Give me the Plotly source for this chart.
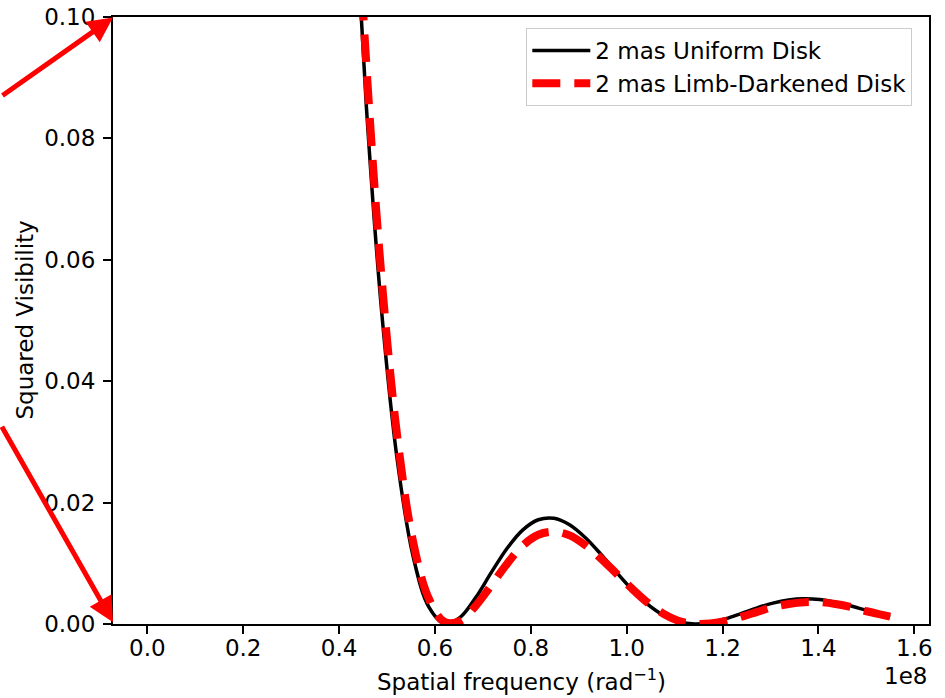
import plotly.graph_objects as go

# Spatial frequency in units of 1e8 rad^-1
freq = [0.3589, 0.3915, 0.4241, 0.4567, 0.4893, 0.5220, 0.5546, 0.5872, 0.6198, 0.6525,
        0.6851, 0.7177, 0.7503, 0.7829, 0.8156, 0.8482, 0.8808, 0.9134, 0.9461, 0.9787,
        1.0113, 1.0439, 1.0766, 1.1092, 1.1418, 1.1744, 1.2070, 1.2397, 1.2723, 1.3049,
        1.3375, 1.3702, 1.4028, 1.4354, 1.4680, 1.5007, 1.5333, 1.5496]

v2_uniform = [0.2555, 0.1879, 0.1312, 0.0856, 0.0511, 0.02667, 0.01111, 0.002815, 0.0000454, 0.001089,
              0.004356, 0.008497, 0.012447, 0.015469, 0.017171, 0.017424, 0.016356, 0.014255, 0.011501, 0.008507,
              0.005645, 0.003221, 0.001435, 0.000368, 0.0000018, 0.0002275, 0.000877, 0.001755, 0.002667, 0.00344,
              0.00396, 0.004157, 0.004025, 0.003603, 0.002971, 0.002234, 0.001493, 0.001153]

v2_limb = [0.270, 0.200, 0.140, 0.0925, 0.0565, 0.0305, 0.0135, 0.0042, 0.00035, 0.0005,
           0.0030, 0.0064, 0.0099, 0.0129, 0.0147, 0.0152, 0.0146, 0.0130, 0.0108, 0.0083,
           0.0058, 0.0035, 0.0017, 0.0005, 0.00005, 0.0001, 0.0005, 0.0012, 0.0020, 0.0028,
           0.0033, 0.0036, 0.0036, 0.0033, 0.0028, 0.0021, 0.0015, 0.0012]

x_ticks = [0.0, 0.2, 0.4, 0.6, 0.8, 1.0, 1.2, 1.4, 1.6]
y_ticks = [0.00, 0.02, 0.04, 0.06, 0.08, 0.10]

FONT = "DejaVu Sans"
FS = 23

fig = go.Figure()
fig.add_trace(go.Scatter(x=freq, y=v2_uniform, mode="lines", name="2 mas Uniform Disk",
                         line=dict(color="black", width=3.5, shape="spline")))
fig.add_trace(go.Scatter(x=freq, y=v2_limb, mode="lines", name="2 mas Limb-Darkened Disk",
                         line=dict(color="red", width=8, dash="28px,14px", shape="spline")))

fig.update_layout(
    width=945, height=698,
    margin=dict(l=113, r=16, t=17, b=74, autoexpand=False),
    paper_bgcolor="white", plot_bgcolor="white",
    font=dict(family=FONT, size=FS, color="black"),
    showlegend=True,
    legend=dict(x=0.5065, y=0.982, xanchor="left", yanchor="top",
                bordercolor="#cccccc", borderwidth=1, bgcolor="white",
                font=dict(size=FS), itemwidth=58, tracegroupgap=0),
)
fig.update_xaxes(
    range=[-0.0715, 1.6306], showgrid=False, zeroline=False, automargin=False,
    showline=True, linecolor="black", linewidth=2, mirror=True,
    ticks="outside", ticklen=8, tickwidth=2, tickcolor="black", ticklabelstandoff=-6,
    tickvals=x_ticks, ticktext=[f"{v:.1f}" for v in x_ticks],
)
fig.update_yaxes(
    range=[0, 0.1], showgrid=False, zeroline=False, automargin=False,
    showline=True, linecolor="black", linewidth=2, mirror=True,
    ticks="outside", ticklen=8, tickwidth=2, tickcolor="black", ticklabelstandoff=3,
    tickvals=y_ticks, ticktext=[f"{v:.2f}" for v in y_ticks],
)

# axis titles
fig.add_annotation(text="Spatial frequency (rad<sup>−1</sup>)", xref="paper", yref="paper",
                   x=0.5, y=-0.121, xanchor="center", yanchor="bottom", showarrow=False,
                   font=dict(size=FS))
fig.add_annotation(text="Squared Visibility", xref="paper", yref="paper",
                   x=-0.109, y=0.5, xanchor="center", yanchor="middle", textangle=-90,
                   showarrow=False, font=dict(size=FS))
fig.add_annotation(text="1e8", xref="paper", yref="paper", x=1.0, y=-0.0857,
                   xanchor="right", yanchor="middle", showarrow=False, font=dict(size=FS))

# red arrows pointing at the plot corners
fig.add_annotation(text="", xref="paper", yref="paper", x=0.0, y=0.999,
                   ax=-112, ay=79, showarrow=True, arrowhead=2, arrowsize=1.0,
                   arrowwidth=5, arrowcolor="red", standoff=0)
fig.add_annotation(text="", xref="paper", yref="paper", x=0.0, y=0.003,
                   ax=-112, ay=-197, showarrow=True, arrowhead=2, arrowsize=1.0,
                   arrowwidth=5, arrowcolor="red", standoff=0)

fig.write_html("out.html")
